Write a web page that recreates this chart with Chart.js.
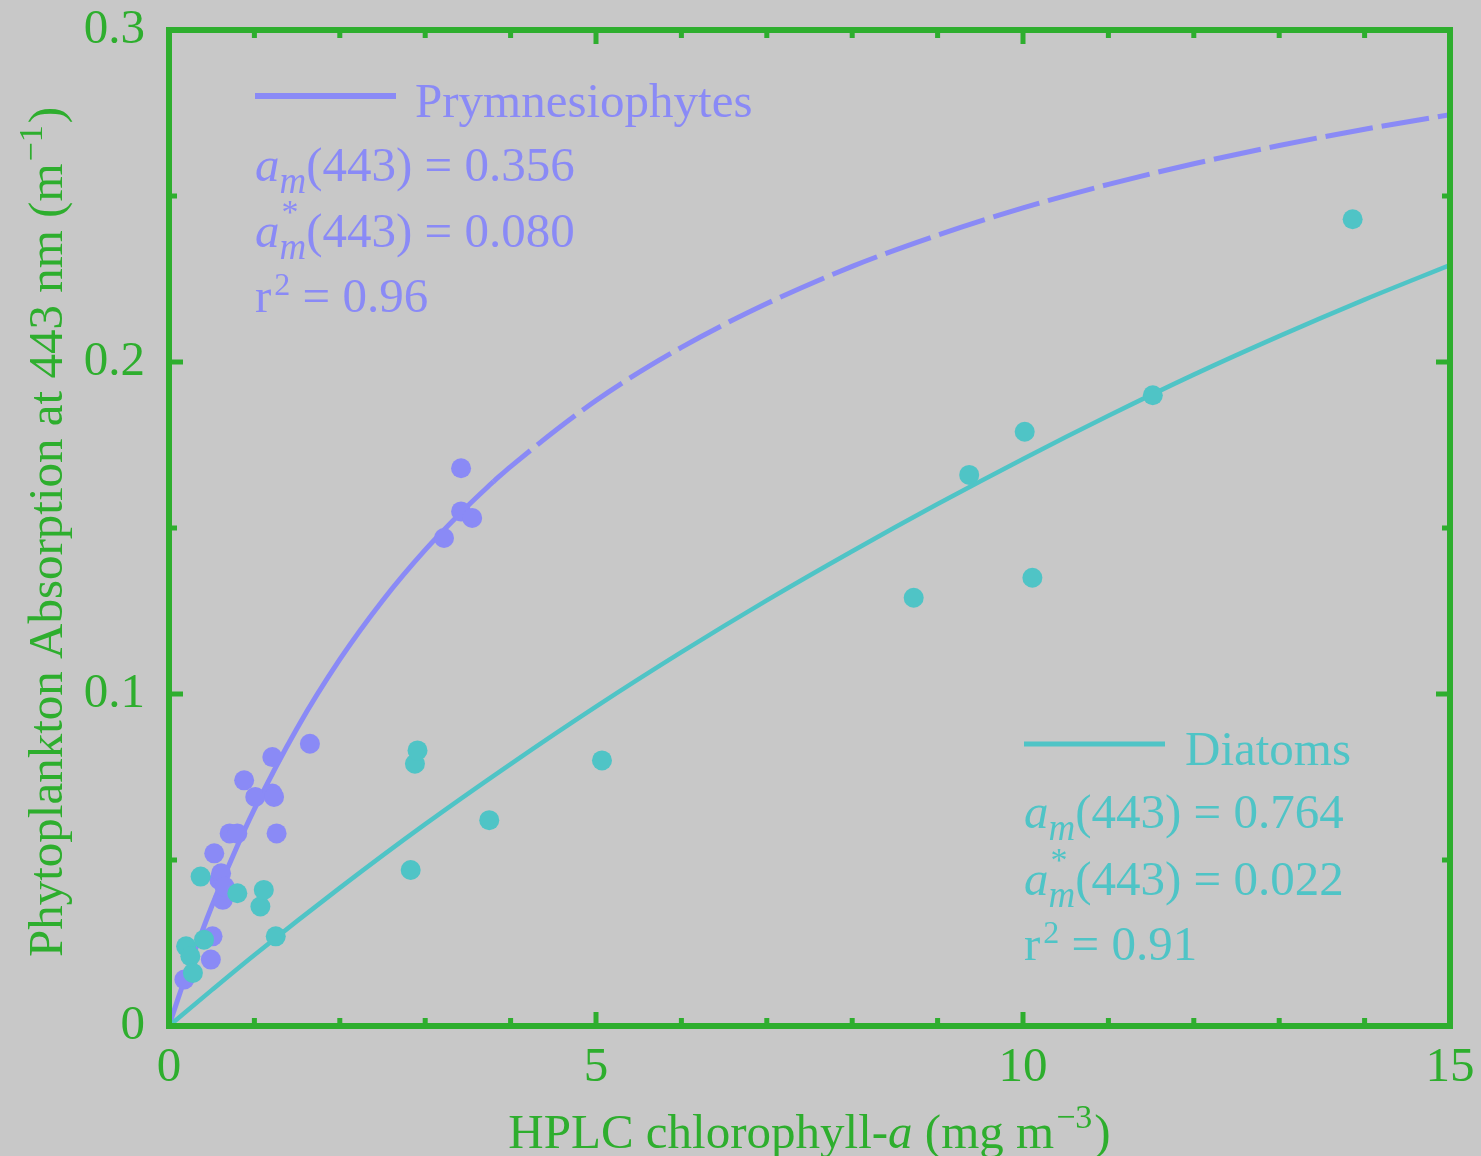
<!DOCTYPE html>
<html>
<head>
<meta charset="utf-8">
<script src="https://cdn.jsdelivr.net/npm/chart.js@4.4.0/dist/chart.umd.min.js"></script>
<style>
html, body { margin: 0; padding: 0; background: #c8c8c8; }
canvas { display: block; }
</style>
</head>
<body>
<canvas id="absChart" width="1481" height="1156"></canvas>
<script>
// measured points, chl-a (mg m-3) vs a_ph(443) (m-1)
var prymChl = [0.18, 0.49, 0.51, 0.53, 0.59, 0.61, 0.63, 0.65, 0.71, 0.80, 0.88, 1.01, 1.21, 1.21, 1.23, 1.26, 1.65, 3.22, 3.42, 3.42, 3.55];
var prymAbs = [0.014, 0.020, 0.027, 0.052, 0.044, 0.046, 0.038, 0.042, 0.058, 0.058, 0.074, 0.069, 0.081, 0.070, 0.069, 0.058, 0.085, 0.147, 0.155, 0.168, 0.153];

var diatChl = [0.20, 0.25, 0.28, 0.37, 0.41, 0.80, 1.07, 1.11, 1.25, 2.83, 2.88, 2.91, 3.75, 5.07, 8.72, 9.37, 10.02, 10.11, 11.52, 13.86];
var diatAbs = [0.024, 0.021, 0.016, 0.045, 0.026, 0.040, 0.036, 0.041, 0.027, 0.047, 0.079, 0.083, 0.062, 0.080, 0.129, 0.166, 0.179, 0.135, 0.190, 0.243];

// fitted curves
var prymFitChl = [0, 0.1, 0.25, 0.5, 0.75, 1, 1.5, 2, 2.5, 3, 3.5, 3.8];
var prymFitAbs = [0, 0.0078, 0.0189, 0.0360, 0.0513, 0.0653, 0.0897, 0.1104, 0.1281, 0.1434, 0.1567, 0.1640];
var prymDashChl = [3.8, 4, 5, 6, 7, 8, 9, 10, 11, 12, 13, 14, 15];
var prymDashAbs = [0.1640, 0.1685, 0.1884, 0.2044, 0.2176, 0.2288, 0.2382, 0.2464, 0.2535, 0.2597, 0.2652, 0.2701, 0.2745];
var diatFitChl = [0, 0.5, 1, 2, 3, 4, 5, 6, 7, 8, 9, 10, 11, 12, 13, 14, 15];
var diatFitAbs = [0, 0.0108, 0.0214, 0.0416, 0.0608, 0.0789, 0.0962, 0.1126, 0.1282, 0.1430, 0.1572, 0.1708, 0.1838, 0.1962, 0.2078, 0.2188, 0.2292];

var xTicks = [0, 5, 10, 15];
var yTicks = [0, 0.1, 0.2, 0.3];
var xMinorTicks = [1, 2, 3, 4, 5, 6, 7, 8, 9, 10, 11, 12, 13, 14];
var yMinorTicks = [0.05, 0.1, 0.15, 0.2, 0.25];

var GREEN = '#2eae2e',
    PURPLE = '#8a8af6',
    TEAL = '#4fc4c6',
    BG = '#c8c8c8',
    SERIF = '"Liberation Serif", "DejaVu Serif", serif';

function toXY(xs, ys) {
    return xs.map(function (x, i) { return { x: x, y: ys[i] }; });
}

// draw a line of text made of pieces (italic, sub/superscript)
function rich(ctx, x, y, parts, measureOnly) {
    var x0 = x;
    parts.forEach(function (p) {
        ctx.font = (p.it ? 'italic ' : '') + (p.size || 49) + 'px ' + SERIF;
        if (!measureOnly) ctx.fillText(p.t, x + (p.dx || 0), y + (p.dy || 0));
        if (!p.stay) x += ctx.measureText(p.t).width + (p.dx || 0);
    });
    return x - x0;
}

function amRows(am, astar, r2) {
    return [
        [{ t: 'a', it: true }, { t: 'm', it: true, size: 37, dy: 12 }, { t: '(443) = ' + am }],
        [{ t: 'a', it: true }, { t: '*', size: 34, dy: -24, dx: 2, stay: true }, { t: 'm', it: true, size: 37, dy: 12 }, { t: '(443) = ' + astar }],
        [{ t: 'r' }, { t: '2', size: 32, dy: -17, dx: 3 }, { t: ' = ' + r2 }]
    ];
}

var decorPlugin = {
    id: 'decor',
    beforeDraw: function (chart) {
        var ctx = chart.ctx;
        ctx.save();
        ctx.fillStyle = BG;
        ctx.fillRect(0, 0, chart.width, chart.height);
        ctx.restore();
    },
    afterDraw: function (chart) {
        var ctx = chart.ctx, a = chart.chartArea,
            xs = chart.scales.x, ys = chart.scales.y;
        ctx.save();

        // frame
        ctx.strokeStyle = GREEN;
        ctx.lineWidth = 6;
        ctx.strokeRect(a.left, a.top, a.right - a.left, a.bottom - a.top);

        // inward ticks on all four sides
        ctx.lineWidth = 5;
        ctx.beginPath();
        xMinorTicks.forEach(function (v) {
            var px = xs.getPixelForValue(v);
            var len = xTicks.indexOf(v) >= 0 ? 14 : 8;
            ctx.moveTo(px, a.bottom); ctx.lineTo(px, a.bottom - len);
            ctx.moveTo(px, a.top); ctx.lineTo(px, a.top + len);
        });
        yMinorTicks.forEach(function (v) {
            var py = ys.getPixelForValue(v);
            var major = yTicks.some(function (t) { return Math.abs(t - v) < 1e-9; });
            var len = major ? 14 : 8;
            ctx.moveTo(a.left, py); ctx.lineTo(a.left + len, py);
            ctx.moveTo(a.right, py); ctx.lineTo(a.right - len, py);
        });
        ctx.stroke();

        ctx.textAlign = 'left';
        ctx.textBaseline = 'alphabetic';

        // Prymnesiophytes legend
        ctx.strokeStyle = PURPLE;
        ctx.lineWidth = 6;
        ctx.beginPath();
        ctx.moveTo(255, 96); ctx.lineTo(396, 96);
        ctx.stroke();
        ctx.fillStyle = PURPLE;
        rich(ctx, 415, 117, [{ t: 'Prymnesiophytes' }]);
        var pr = amRows('0.356', '0.080', '0.96');
        rich(ctx, 255, 181, pr[0]);
        rich(ctx, 255, 247, pr[1]);
        rich(ctx, 255, 312, pr[2]);

        // Diatoms legend
        ctx.strokeStyle = TEAL;
        ctx.lineWidth = 5;
        ctx.beginPath();
        ctx.moveTo(1024, 744); ctx.lineTo(1165, 744);
        ctx.stroke();
        ctx.fillStyle = TEAL;
        rich(ctx, 1185, 765, [{ t: 'Diatoms' }]);
        var dr = amRows('0.764', '0.022', '0.91');
        rich(ctx, 1024, 828, dr[0]);
        rich(ctx, 1024, 895, dr[1]);
        rich(ctx, 1024, 960, dr[2]);

        // axis titles
        ctx.fillStyle = GREEN;
        var xt = [{ t: 'HPLC chlorophyll-' }, { t: 'a', it: true }, { t: ' (mg m' }, { t: '\u22123', size: 34, dy: -20, dx: 2 }, { t: ')', dx: 2 }];
        var w = rich(ctx, 0, 0, xt, true);
        rich(ctx, (a.left + a.right) / 2 - w / 2, 1148, xt);

        var yt = [{ t: 'Phytoplankton Absorption at 443 nm (m' }, { t: '\u22121', size: 34, dy: -20, dx: 2 }, { t: ')', dx: 2 }];
        w = rich(ctx, 0, 0, yt, true);
        ctx.translate(62, 532);
        ctx.rotate(-Math.PI / 2);
        rich(ctx, -w / 2, 0, yt);

        ctx.restore();
    }
};

var tickFont = { family: SERIF, size: 49 };

function noPad(s) {
    s.paddingTop = 0; s.paddingBottom = 0; s.paddingLeft = 0; s.paddingRight = 0;
}

var ctx = document.getElementById('absChart').getContext('2d');

var absChart = new Chart(ctx, {
    type: 'scatter',
    data: {
        datasets: [{
            label: 'Prymnesiophytes fit',
            data: toXY(prymFitChl, prymFitAbs),
            showLine: true,
            borderColor: PURPLE,
            borderWidth: 5,
            pointRadius: 0,
            cubicInterpolationMode: 'monotone',
            order: 6
        }, {
            label: 'Prymnesiophytes fit (extrapolated)',
            data: toXY(prymDashChl, prymDashAbs),
            showLine: true,
            borderColor: PURPLE,
            borderWidth: 5,
            borderDash: [48, 9],
            pointRadius: 0,
            cubicInterpolationMode: 'monotone',
            order: 5
        }, {
            label: 'Prymnesiophytes',
            data: toXY(prymChl, prymAbs),
            backgroundColor: PURPLE,
            borderWidth: 0,
            pointRadius: 10,
            order: 4
        }, {
            label: 'Diatoms fit',
            data: toXY(diatFitChl, diatFitAbs),
            showLine: true,
            borderColor: TEAL,
            borderWidth: 4.5,
            pointRadius: 0,
            cubicInterpolationMode: 'monotone',
            order: 3
        }, {
            label: 'Diatoms',
            data: toXY(diatChl, diatAbs),
            backgroundColor: TEAL,
            borderWidth: 0,
            pointRadius: 10,
            order: 2
        }]
    },
    options: {
        responsive: false,
        animation: false,
        layout: { padding: { top: 30, right: 31, left: 0, bottom: 0 } },
        plugins: { legend: { display: false }, tooltip: { enabled: false } },
        scales: {
            x: {
                type: 'linear',
                min: 0,
                max: 15,
                grid: { display: false, drawTicks: false },
                border: { display: false },
                ticks: {
                    color: GREEN, font: tickFont, padding: 13, maxRotation: 0, autoSkip: false,
                    callback: function (v) { return String(v); }
                },
                afterBuildTicks: function (s) { s.ticks = xTicks.map(function (v) { return { value: v }; }); },
                afterFit: function (s) { s.height = 130; noPad(s); }
            },
            y: {
                type: 'linear',
                min: 0,
                max: 0.3,
                grid: { display: false, drawTicks: false },
                border: { display: false },
                ticks: {
                    color: GREEN, font: tickFont, padding: 24, autoSkip: false,
                    callback: function (v) { return String(v); }
                },
                afterBuildTicks: function (s) { s.ticks = yTicks.map(function (v) { return { value: v }; }); },
                afterFit: function (s) { s.width = 169; noPad(s); }
            }
        }
    },
    plugins: [decorPlugin]
});
</script>
</body>
</html>
